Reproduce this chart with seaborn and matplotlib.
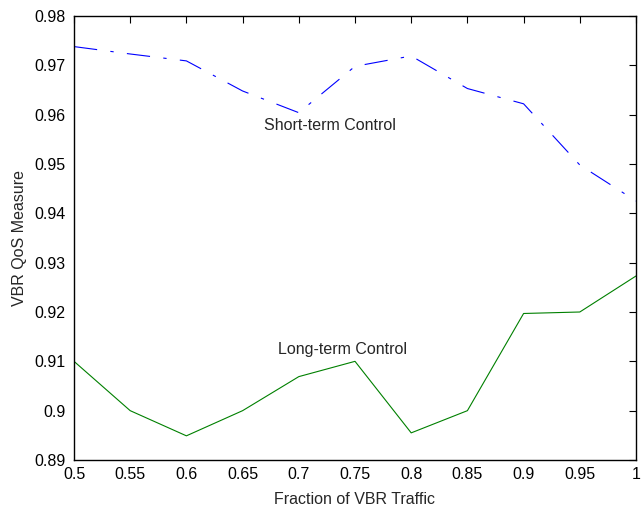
import numpy as np
import pandas as pd
import matplotlib
matplotlib.use("Agg")
import matplotlib.pyplot as plt
import seaborn as sns

x_vals = [0.5, 0.55, 0.6, 0.65, 0.7, 0.75, 0.8, 0.85, 0.9, 0.95, 1.0]
short_term = [0.9738, 0.9723, 0.9709, 0.9648, 0.9604, 0.9698, 0.9719, 0.9653, 0.9622, 0.9498, 0.9425]
long_term = [0.9100, 0.9000, 0.8949, 0.9000, 0.9069, 0.9100, 0.8955, 0.9000, 0.9197, 0.9200, 0.9273]
x_ticks = [0.5, 0.55, 0.6, 0.65, 0.7, 0.75, 0.8, 0.85, 0.9, 0.95, 1.0]
x_tick_labels = ["0.5", "0.55", "0.6", "0.65", "0.7", "0.75", "0.8", "0.85", "0.9", "0.95", "1"]
y_ticks = [0.89, 0.90, 0.91, 0.92, 0.93, 0.94, 0.95, 0.96, 0.97, 0.98]
y_tick_labels = ["0.89", "0.9", "0.91", "0.92", "0.93", "0.94", "0.95", "0.96", "0.97", "0.98"]

sns.set_style("white")
plt.rcParams['font.family'] = ['Liberation Sans', 'DejaVu Sans']
plt.rcParams['font.size'] = 11.5

df_short = pd.DataFrame({"x": x_vals, "y": short_term})
df_long = pd.DataFrame({"x": x_vals, "y": long_term})

fig = plt.figure(figsize=(6.42, 5.13), dpi=100)
ax = fig.add_axes([74/642, 1 - 460/513, (636-74)/642, (460-16)/513])

sns.lineplot(data=df_short, x="x", y="y", ax=ax, color=(0, 0, 1), linewidth=0.8,
             linestyle=(0, (21, 12, 3, 12)), estimator=None)
sns.lineplot(data=df_long, x="x", y="y", ax=ax, color=(0, 0.5, 0), linewidth=0.8,
             estimator=None)

ax.set_xlim(0.5, 1.0)
ax.set_ylim(0.89, 0.98)
ax.set_xticks(x_ticks)
ax.set_xticklabels(x_tick_labels)
ax.set_yticks(y_ticks)
ax.set_yticklabels(y_tick_labels)
ax.tick_params(direction="in", length=5, width=0.8, top=True, right=True,
               labelsize=11.5, colors="black")
ax.tick_params(axis="x", pad=5)
ax.tick_params(axis="y", pad=6)
for s in ax.spines.values():
    s.set_visible(True)
    s.set_color("black")
    s.set_linewidth(1.0)

ax.set_xlabel("Fraction of VBR Traffic", fontsize=11.5, labelpad=7)
ax.set_ylabel("VBR QoS Measure", fontsize=11.5, labelpad=5)

ax.text(0.7278, 0.9578, "Short-term Control", ha="center", va="center", fontsize=11.5)
ax.text(0.7389, 0.9123, "Long-term Control", ha="center", va="center", fontsize=11.5)

fig.savefig("out.png", dpi=100, facecolor="white")
